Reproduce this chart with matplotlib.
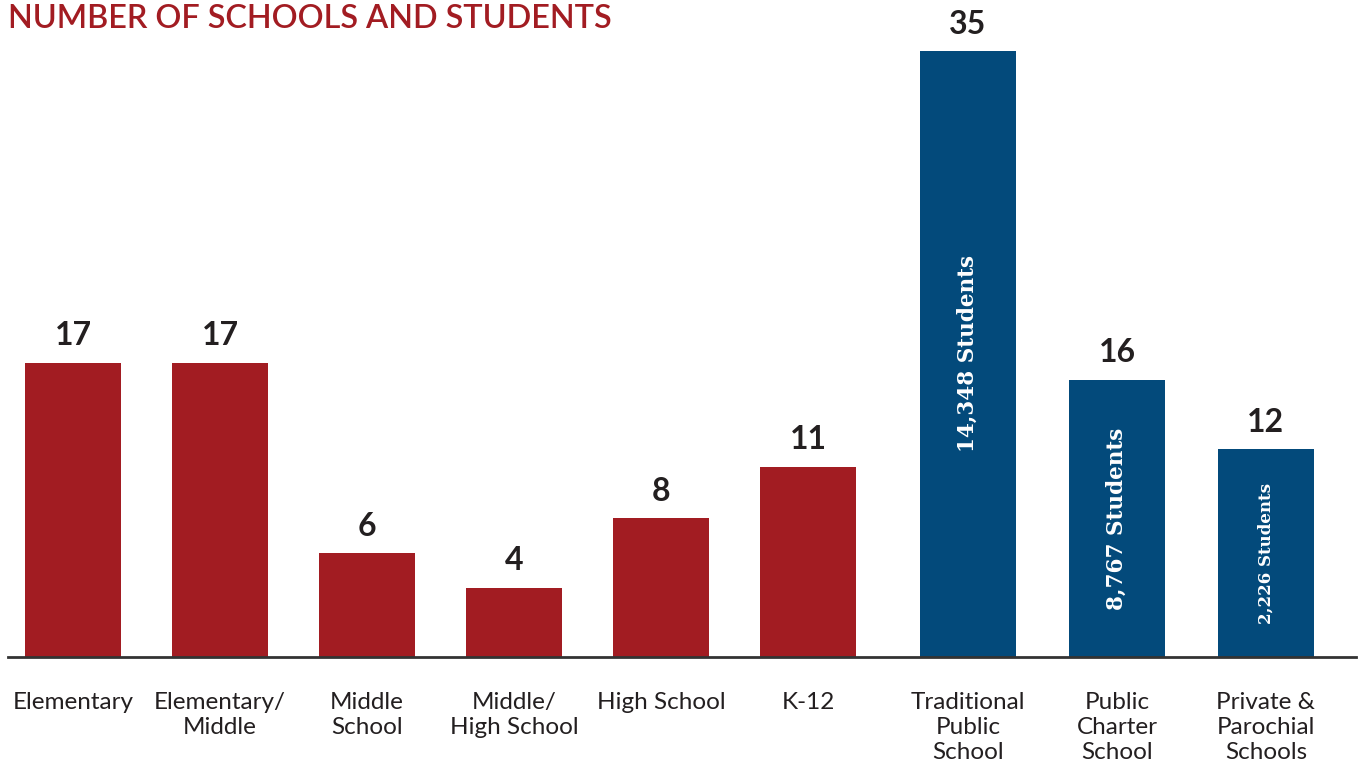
import numpy as np
import matplotlib.pyplot as plt

categories = ['Elementary', 'Elementary/\nMiddle', 'Middle\nSchool',
              'Middle/\nHigh School', 'High School', 'K-12',
              'Traditional\nPublic\nSchool', 'Public\nCharter\nSchool',
              'Private &\nParochial\nSchools']
schools = [17, 17, 6, 4, 8, 11, 35, 16, 12]
students = [None, None, None, None, None, None,
            '14,348 Students', '8,767 Students', '2,226 Students']

RED = '#A21C22'
BLUE = '#034A7B'
DARK = '#231F20'

# school levels first, then school types after a small gap
x = np.r_[np.arange(6), 6.088 + np.arange(3) * 149 / 147]
colors = [RED] * 6 + [BLUE] * 3

fig = plt.figure(figsize=(13.61, 7.72), dpi=100)
ax = fig.add_axes([8 / 1361, 115 / 772, 1348 / 1361, 606 / 772])

ax.bar(x, schools, width=96 / 147, color=colors)
ax.set_xlim((8 - 73) / 147, (1356 - 73) / 147)
ax.set_ylim(0, 35)

for xi, v, s in zip(x, schools, students):
    ax.annotate(str(v), (xi, v), xytext=(0, 9), textcoords='offset points',
                ha='center', va='bottom', fontsize=23, fontweight='bold',
                color=DARK, family='Lato', annotation_clip=False)
    if s:
        size = 15.5 if v > 12 else 12
        ax.text(xi, v / 2, s, rotation=90, ha='center', va='center',
                color='white', fontsize=size, fontweight='bold',
                family='DejaVu Serif')

for side in ['top', 'right', 'left']:
    ax.spines[side].set_visible(False)
ax.spines['bottom'].set_color('#333333')
ax.spines['bottom'].set_linewidth(2)
ax.set_yticks([])
ax.set_xticks(x)
ax.set_xticklabels(categories, fontsize=17.5, color=DARK, family='Lato',
                   linespacing=1.25, va='top')
ax.tick_params(axis='x', length=0, pad=25)

fig.text(8 / 1361, 1 - 4 / 772, 'NUMBER OF SCHOOLS AND STUDENTS',
         ha='left', va='top', fontsize=23.3, color=RED, family='Lato',
         fontweight='semibold')

fig.savefig('out.png', dpi=100)
